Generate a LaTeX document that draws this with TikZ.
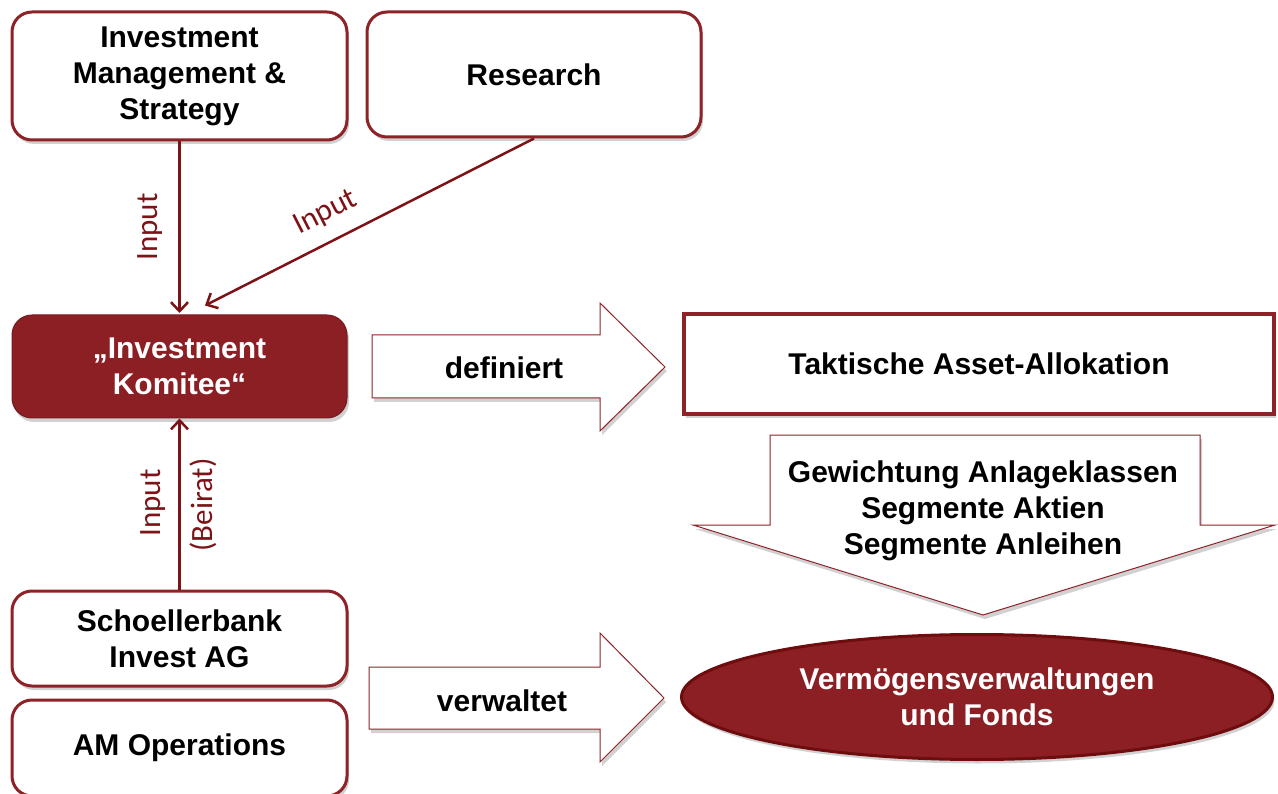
\documentclass[tikz,border=0pt]{standalone}
\usepackage{fontspec}
\setmainfont{Liberation Sans}
\newfontfamily\lblfont{Carlito}
\usetikzlibrary{shadows,arrows.meta,calc,shapes.geometric}

\definecolor{kred}{HTML}{8B1F24}
\definecolor{bred}{HTML}{8E2327}
\definecolor{ared}{HTML}{7D1316}
\definecolor{ered}{HTML}{6E0C0E}

\tikzset{
  shad/.style={drop shadow={opacity=0.3, shadow xshift=2pt, shadow yshift=-4pt, fill=black!60}},
  txt/.style={align=center, font=\bfseries\fontsize{30}{36}\selectfont, inner sep=0pt},
  rbox/.style={txt, draw=bred, line width=3pt, rounded corners=20pt, fill=white, shad},
  kbox/.style={txt, draw=kred!85!black, line width=1pt, rounded corners=20pt, fill=kred, text=white, shad},
  blockarrow/.style={draw=bred, line width=1pt, fill=white, shad},
  conn/.style={draw=ared, line width=2.5pt, -{Straight Barb[length=9pt,width=17pt,line width=2.5pt]}},
  lbl/.style={text=ared, font=\lblfont\fontsize{31}{34}\selectfont, inner sep=0pt},
}

\begin{document}
\begin{tikzpicture}[x=1pt,y=-1pt]
\useasboundingbox (0,0) rectangle (1278,794);
\clip (0,0) rectangle (1278,794);

% left column boxes
\node[rbox, minimum width=335pt, minimum height=128pt] (ims) at (179.5,76) {Investment\\Management \&\\Strategy};
\node[rbox, minimum width=334pt, minimum height=125pt] (res) at (534,74.5) {Research};
\node[kbox, minimum width=335pt, minimum height=103pt] (ik) at (179.5,366.5) {„Investment\\Komitee“};
\node[rbox, minimum width=335pt, minimum height=95pt] (sb) at (179.5,638.5) {Schoellerbank\\Invest AG};
\node[rbox, minimum width=335pt, minimum height=96pt] (amo) at (179.5,748) {AM Operations};

% block arrows
\path[blockarrow] (372,335) -- (600,335) -- (600,303) -- (665,367) -- (600,431) -- (600,398) -- (372,398) -- cycle;
\node[txt] (def) at (504,368) {definiert};

\path[blockarrow] (369,667) -- (600,667) -- (600,633) -- (664,698) -- (600,762) -- (600,729) -- (369,729) -- cycle;
\node[txt] (verw) at (502,701) {verwaltet};

% right column
\node[txt, draw=bred, line width=4pt, fill=white, shad, minimum width=590pt, minimum height=100pt] (taa) at (979,364) {Taktische Asset-Allokation};

\path[blockarrow] (770,435) -- (1200,435) -- (1200,525) -- (1275,525) -- (983,615) -- (693,525) -- (770,525) -- cycle;
\node[txt] (gew) at (983,511) {Gewichtung Anlageklassen\\Segmente Aktien\\Segmente Anleihen};

\node[txt, ellipse, fill=kred, draw=ered, line width=3pt, text=white, shad, minimum width=591pt, minimum height=125pt] (vf) at (977,697) {Vermögensverwaltungen\\und Fonds};

% connectors
\draw[conn, shorten >=1.5pt] (ims.south) -- (ik.north);
\draw[conn] (res.south) -- ($(ik.north)+(25.5,-9)$);
\draw[conn] (sb.north) -- (ik.south);

% labels
\node[lbl, rotate=90] (in1) at (150,227) {Input};
\node[lbl, rotate=27] (in2) at (326,213) {Input};
\node[lbl, rotate=90] (in3) at (153,503) {Input};
\node[lbl, rotate=90] (in4) at (203,505) {(Beirat)};
\end{tikzpicture}
\end{document}
